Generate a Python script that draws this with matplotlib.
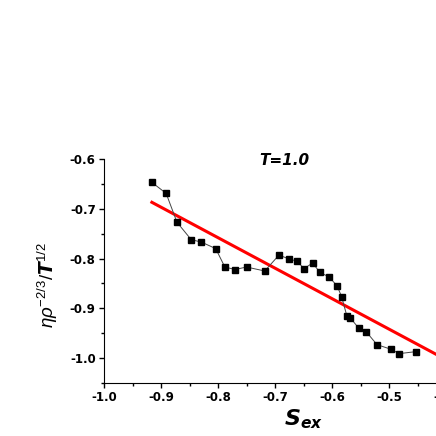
import matplotlib.pyplot as plt
import numpy as np

plt.rcParams['font.family'] = ['DejaVu Sans']
plt.rcParams['axes.unicode_minus'] = False
plt.rcParams['mathtext.fontset'] = 'custom'
plt.rcParams['mathtext.rm'] = 'Liberation Sans'
plt.rcParams['mathtext.it'] = 'Liberation Sans:italic'
plt.rcParams['mathtext.bf'] = 'DejaVu Sans:oblique:bold'

# data
s_ex = [-0.916, -0.891, -0.872, -0.847, -0.829, -0.804, -0.788, -0.770, -0.750,
        -0.718, -0.693, -0.675, -0.662, -0.649, -0.634, -0.621, -0.605, -0.591,
        -0.583, -0.574, -0.568, -0.553, -0.540, -0.521, -0.497, -0.482, -0.453]
eta = [-0.647, -0.669, -0.727, -0.762, -0.767, -0.780, -0.817, -0.822, -0.817,
       -0.825, -0.793, -0.801, -0.805, -0.820, -0.809, -0.828, -0.837, -0.855,
       -0.877, -0.915, -0.919, -0.940, -0.947, -0.973, -0.982, -0.991, -0.987]

# linear fit line (end points)
fit_x = [-0.916, -0.40]
fit_y = [-0.687, -1.003]

fig = plt.figure(figsize=(4.36, 4.36), dpi=100)
ax = fig.add_axes([104/436, 53/436, 399/436, 224/436])

ax.plot(s_ex, eta, color='#444444', lw=0.7, marker='s', ms=5,
        mfc='black', mec='black', zorder=3)
ax.plot(fit_x, fit_y, color='red', lw=2.2, zorder=2)

ax.set_xlim(-1.0, -0.3)
ax.set_ylim(-1.05, -0.6)
ax.set_xticks(np.arange(-1.0, -0.29, 0.1))
ax.set_xticks(np.arange(-0.95, -0.29, 0.1), minor=True)
ax.set_yticks(np.arange(-1.0, -0.59, 0.1))
ax.set_yticks(np.arange(-1.05, -0.59, 0.05), minor=True)
ax.xaxis.set_major_formatter(plt.FormatStrFormatter('%.1f'))
ax.yaxis.set_major_formatter(plt.FormatStrFormatter('%.1f'))

ax.spines['top'].set_visible(False)
ax.spines['right'].set_visible(False)
ax.tick_params(which='major', direction='out', length=3.5, width=1, labelsize=8.5, pad=2.5)
ax.tick_params(which='minor', direction='out', length=2, width=1)
for lab in ax.get_xticklabels() + ax.get_yticklabels():
    lab.set_fontweight('bold')

ax.text(-0.683, -0.603, 'T=1.0', fontsize=11, fontweight='bold', style='oblique',
        ha='center', va='center')

ax.set_xlabel(r'$\mathbf{S}_{\mathbf{ex}}$', fontsize=16, labelpad=2)
ax.set_ylabel(r'$\eta\rho^{-2/3}/\mathbf{T}^{1/2}$', fontsize=13.5)
ax.yaxis.set_label_coords(-0.11, 0.4375)

fig.savefig('out.png', dpi=100)
